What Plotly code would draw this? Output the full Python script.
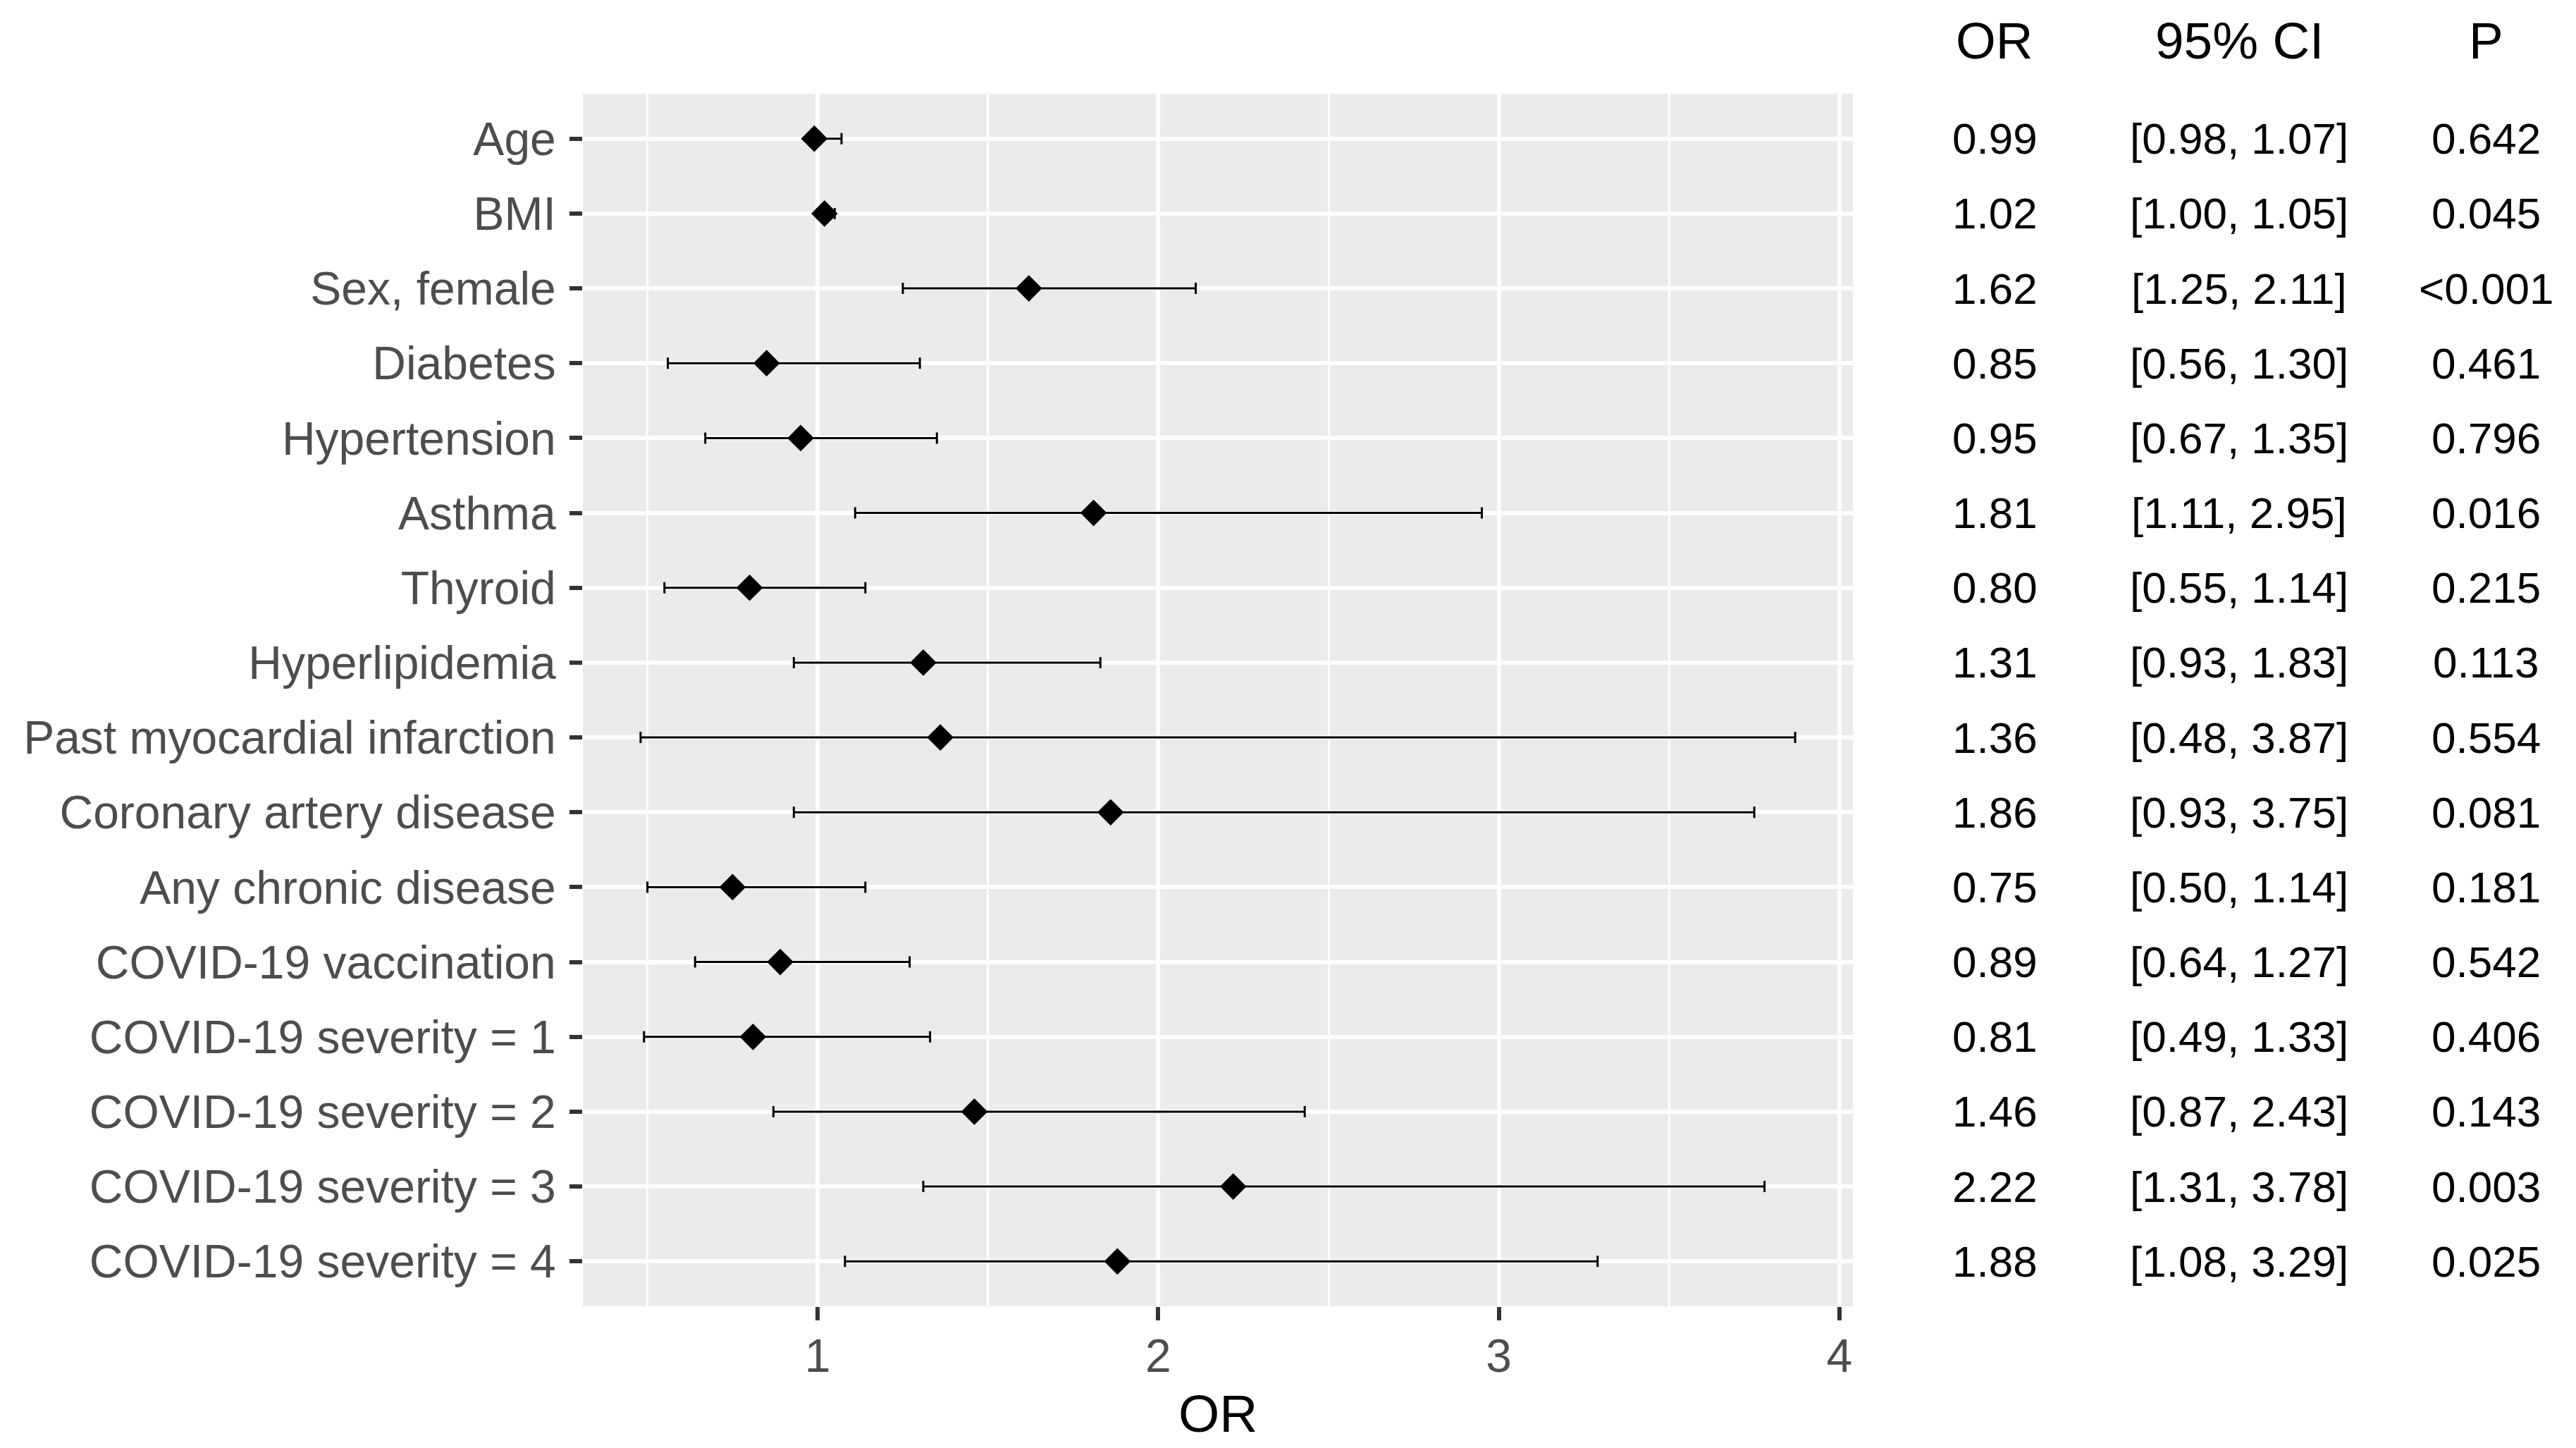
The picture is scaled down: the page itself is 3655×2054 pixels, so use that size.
import plotly.graph_objects as go

labels = ["Age", "BMI", "Sex, female", "Diabetes", "Hypertension", "Asthma", "Thyroid",
          "Hyperlipidemia", "Past myocardial infarction", "Coronary artery disease",
          "Any chronic disease", "COVID-19 vaccination", "COVID-19 severity = 1",
          "COVID-19 severity = 2", "COVID-19 severity = 3", "COVID-19 severity = 4"]
odds = [0.99, 1.02, 1.62, 0.85, 0.95, 1.81, 0.80, 1.31, 1.36, 1.86, 0.75, 0.89, 0.81, 1.46, 2.22, 1.88]
ci_low = [0.98, 1.00, 1.25, 0.56, 0.67, 1.11, 0.55, 0.93, 0.48, 0.93, 0.50, 0.64, 0.49, 0.87, 1.31, 1.08]
ci_high = [1.07, 1.05, 2.11, 1.30, 1.35, 2.95, 1.14, 1.83, 3.87, 3.75, 1.14, 1.27, 1.33, 2.43, 3.78, 3.29]
pvals = ["0.642", "0.045", "<0.001", "0.461", "0.796", "0.016", "0.215", "0.113", "0.554",
         "0.081", "0.181", "0.542", "0.406", "0.143", "0.003", "0.025"]
x_ticks = [1, 2, 3, 4]
x_minor = [0.5, 1.5, 2.5, 3.5]
headers = ["OR", "95% CI", "P"]

OFF = 8  # default page body margin
W, H = 3655 - 2 * OFF, 2054 - 2 * OFF
L, R, T, B = 827 - OFF, 2629 - OFF, 133 - OFF, 1853 - OFF
n = len(labels)
ypos = [n - i for i in range(n)]

def px_to_paper_x(px):
    return (px - OFF - L) / (R - L)

def px_to_paper_y(py):
    return (B - (py - OFF)) / (B - T)

FONT = "Liberation Sans, Arial, sans-serif"

fig = go.Figure()
fig.add_trace(go.Scatter(
    x=odds, y=ypos, mode="markers",
    marker=dict(symbol="diamond", size=29, color="black", line=dict(width=0)),
    error_x=dict(type="data", symmetric=False,
                 array=[h - o for h, o in zip(ci_high, odds)],
                 arrayminus=[o - l for o, l in zip(odds, ci_low)],
                 color="black", thickness=3, width=8),
    showlegend=False, cliponaxis=False,
))

fig.add_shape(type="line", x0=1, x1=1, xref="x", yref="paper", y0=0, y1=1,
              line=dict(color="black", width=3, dash="22px,10px"), layer="between")

xmin = min(ci_low); xmax = max(ci_high); pad = 0.05 * (xmax - xmin)

fig.update_layout(
    width=W, height=H,
    margin=dict(l=L, r=W - R, t=T, b=H - B, pad=0),
    paper_bgcolor="white", plot_bgcolor="#EBEBEB",
    font=dict(family=FONT, size=66, color="#4D4D4D"),
    xaxis=dict(range=[xmin - pad, xmax + pad], tickvals=x_ticks,
               ticktext=[str(v) for v in x_ticks],
               showgrid=True, gridcolor="white", gridwidth=6,
               minor=dict(tickvals=x_minor, showgrid=True, gridcolor="white", gridwidth=3, ticks=""),
               ticks="outside", ticklen=19, tickwidth=6, tickcolor="#333333",
               tickfont=dict(size=66, color="#4D4D4D"),
               zeroline=False, showline=False, ticklabelstandoff=-6),
    yaxis=dict(range=[0.4, n + 0.6], tickvals=ypos, ticktext=labels,
               showgrid=True, gridcolor="white", gridwidth=6,
               ticks="outside", ticklen=18, tickwidth=6, tickcolor="#333333",
               tickfont=dict(size=66, color="#4D4D4D"),
               zeroline=False, showline=False, ticklabelstandoff=6),
)

col_px = [2830, 3177, 3527]
ann = []
for hx, htxt in zip(col_px, headers):
    ann.append(dict(x=px_to_paper_x(hx), y=px_to_paper_y(58), xref="paper", yref="paper",
                    text=htxt, showarrow=False, xanchor="center", yanchor="middle",
                    font=dict(family=FONT, size=73, color="black")))
for i in range(n):
    cells = [f"{odds[i]:.2f}", f"[{ci_low[i]:.2f}, {ci_high[i]:.2f}]", pvals[i]]
    for cx, ctxt in zip(col_px, cells):
        ann.append(dict(x=px_to_paper_x(cx), y=ypos[i], xref="paper", yref="y",
                        text=ctxt, showarrow=False, xanchor="center", yanchor="middle",
                        font=dict(family=FONT, size=62, color="black")))
ann.append(dict(x=0.5, y=px_to_paper_y(2005), xref="paper", yref="paper", text="OR",
                showarrow=False, xanchor="center", yanchor="middle",
                font=dict(family=FONT, size=75, color="black")))
fig.update_layout(annotations=ann)

fig.write_html("out.html")
